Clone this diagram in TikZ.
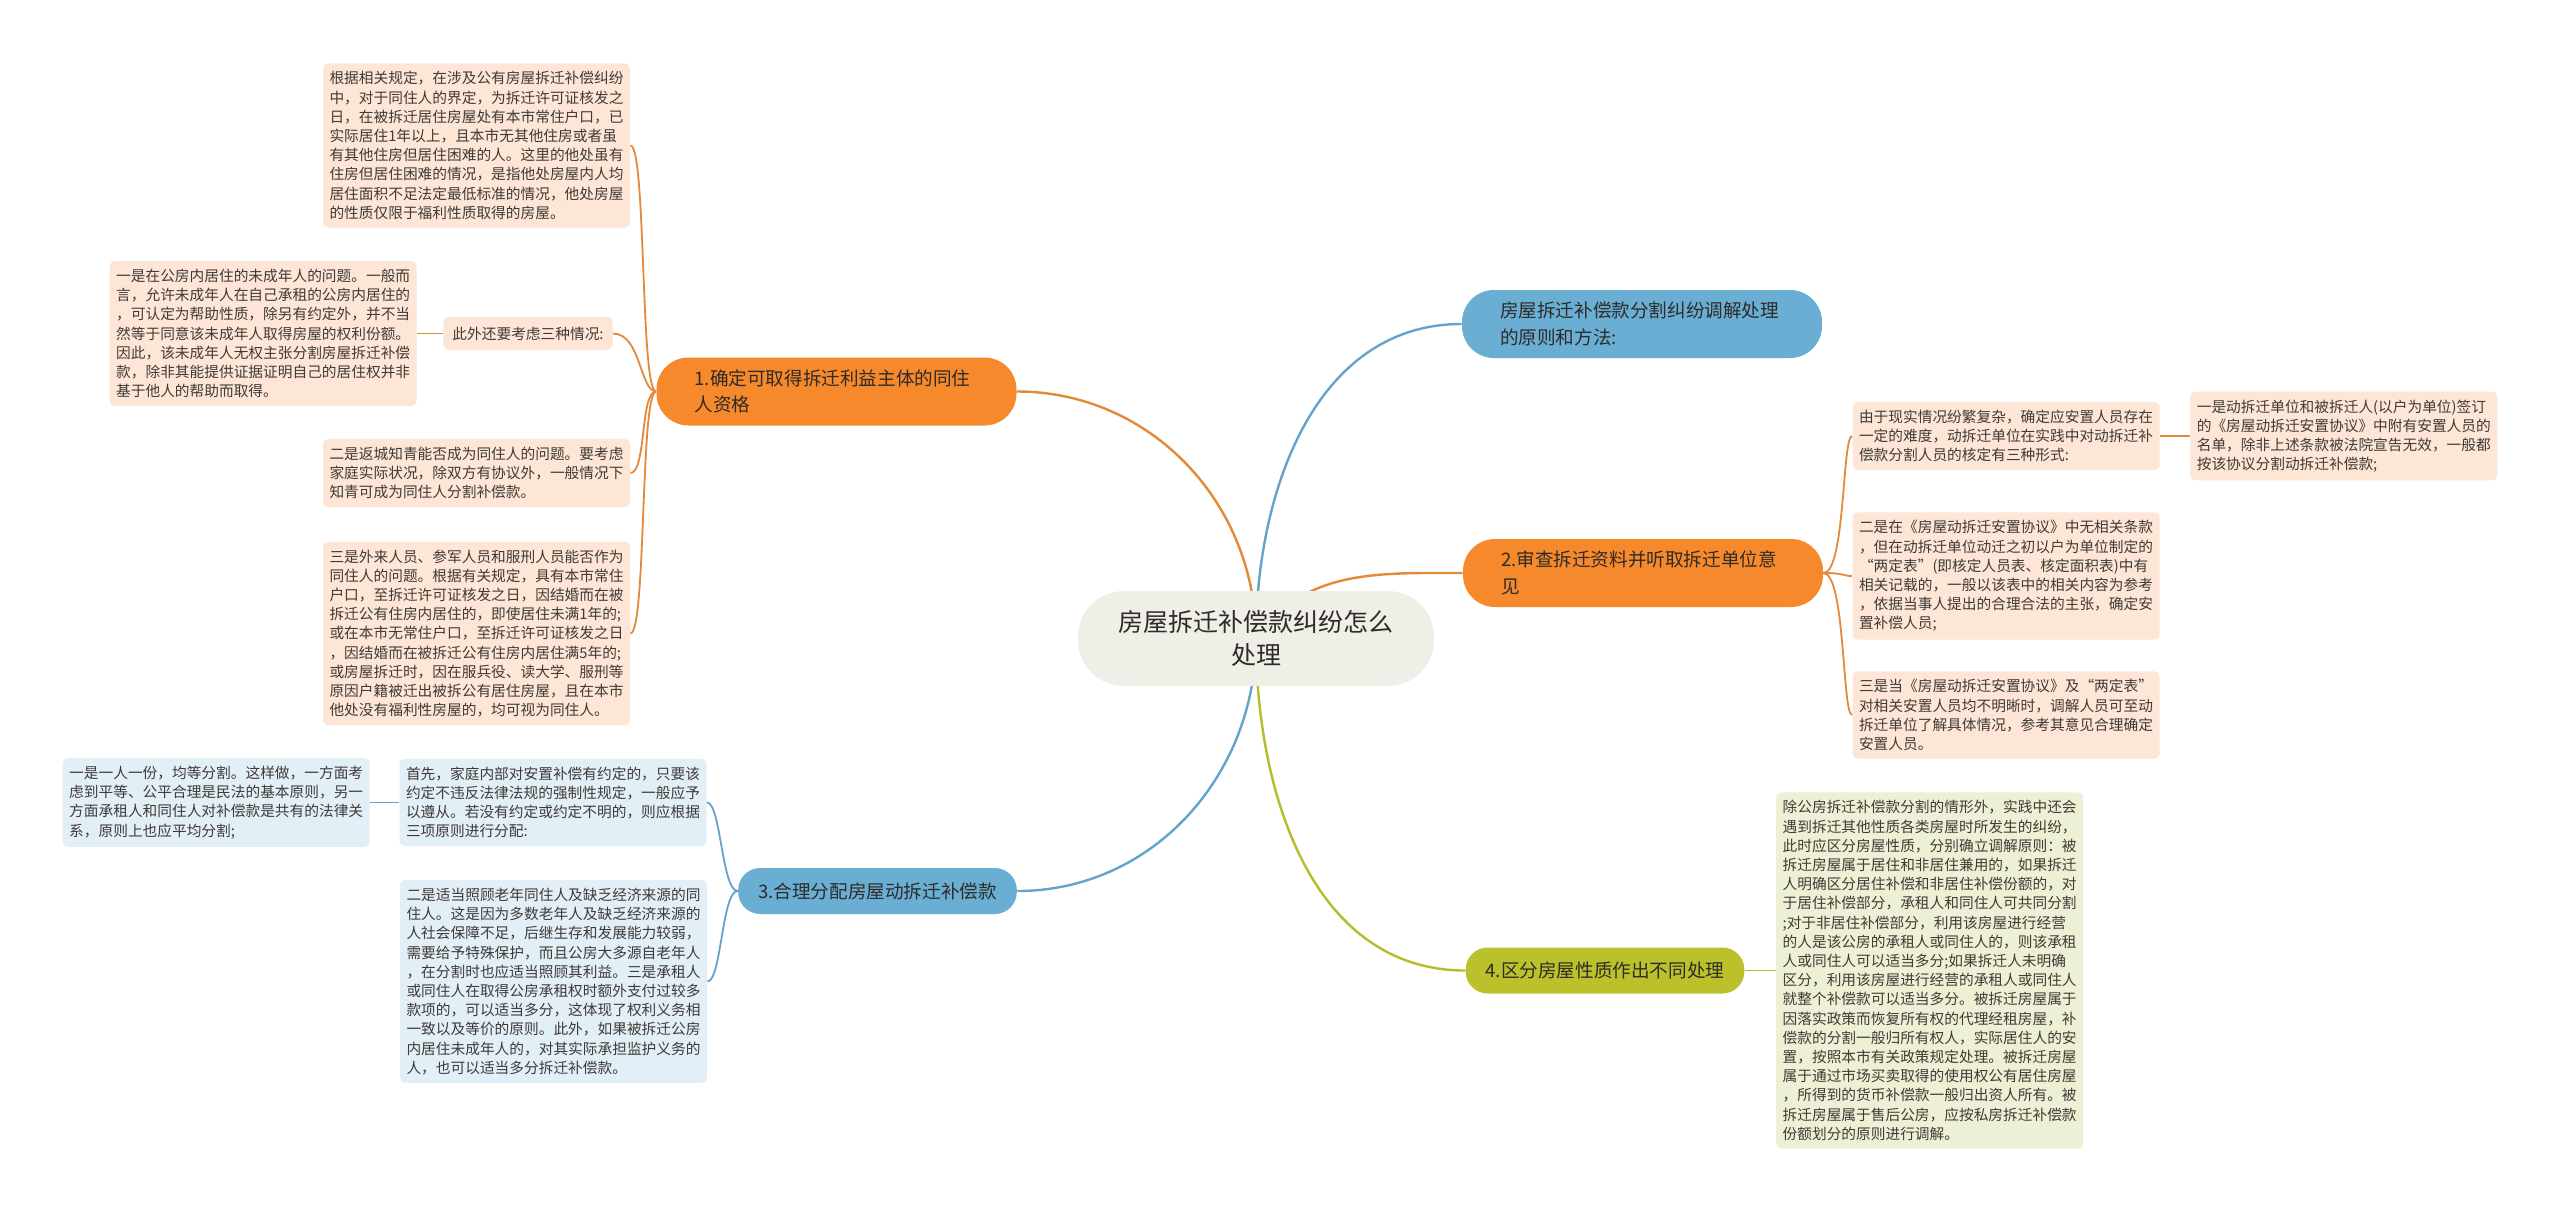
\documentclass[tikz,border=0pt]{standalone}
\usepackage{fontspec}
\setmainfont{Noto Sans CJK SC}
\usetikzlibrary{positioning,backgrounds}
\definecolor{orgfill}{HTML}{F5892C}
\definecolor{orgline}{HTML}{E3893A}
\definecolor{orgleaf}{HTML}{FDE6D6}
\definecolor{blufill}{HTML}{6AAED4}
\definecolor{bluline}{HTML}{64A3CB}
\definecolor{bluleaf}{HTML}{E3EFF7}
\definecolor{olvfill}{HTML}{BAC12A}
\definecolor{olvline}{HTML}{B5BD2A}
\definecolor{olvleaf}{HTML}{EEF0D6}
\definecolor{ctrfill}{HTML}{EFEEE7}
\definecolor{leaftxt}{HTML}{3F3A36}
\definecolor{brtxt}{HTML}{2E2B28}

\begin{document}
\begin{tikzpicture}[
  x=0.5pt, y=-0.5pt,
  leaf/.style={fill=#1, rounded corners=2.5pt, align=left, text width=147pt,
               inner xsep=3.25pt, inner ysep=4pt, text=leaftxt,
               font=\fontsize{7.35}{9.6}\selectfont},
  tagbox/.style={fill=#1, rounded corners=2.5pt, inner xsep=4.5pt, inner ysep=4pt,
                 minimum height=16.5pt, text=leaftxt, font=\fontsize{7.35}{9.6}\selectfont},
  twoline/.style={fill=#1, rounded corners=16pt, align=left, text width=142pt,
                  inner xsep=19pt, minimum height=34pt, text=brtxt,
                  font=\fontsize{9.3}{13.3}\selectfont},
  oneline/.style={fill=#1, rounded corners=11pt, inner xsep=10pt,
                  minimum height=23pt, text=brtxt, font=\fontsize{9.3}{13.3}\selectfont},
  ctrbox/.style={fill=ctrfill, rounded corners=23pt, align=center,
                 minimum width=178pt, minimum height=47.5pt, text=brtxt,
                 font=\fontsize{12.5}{16.5}\selectfont},
  link/.style={line width=1.2pt},
  twig/.style={line width=0.9pt}
]
\useasboundingbox (0,0) rectangle (2560,1211);

\node[ctrbox] (ctr) at (1256,638.5) {房屋拆迁补偿款纠纷怎么\\处理};

\node[twoline=orgfill] (b1) at (836.5,391.5) {1.确定可取得拆迁利益主体的同住\\人资格};
\node[twoline=blufill] (tr) at (1642,324) {房屋拆迁补偿款分割纠纷调解处理\\的原则和方法:};
\node[twoline=orgfill] (b2) at (1643,573) {2.审查拆迁资料并听取拆迁单位意\\见};
\node[oneline=blufill] (b3) at (877.5,891) {3.合理分配房屋动拆迁补偿款};
\node[oneline=olvfill] (b4) at (1605,970.5) {4.区分房屋性质作出不同处理};

\node[leaf=orgleaf] (rule) at (476.5,145.5) {根据相关规定，在涉及公有房屋拆迁补偿纠纷\\中，对于同住人的界定，为拆迁许可证核发之\\日，在被拆迁居住房屋处有本市常住户口，已\\实际居住1年以上，且本市无其他住房或者虽\\有其他住房但居住困难的人。这里的他处虽有\\住房但居住困难的情况，是指他处房屋内人均\\居住面积不足法定最低标准的情况，他处房屋\\的性质仅限于福利性质取得的房屋。};
\node[tagbox=orgleaf] (three) at (528,333.5) {此外还要考虑三种情况:};
\node[leaf=orgleaf] (minor) [left=13pt of three] {一是在公房内居住的未成年人的问题。一般而\\言，允许未成年人在自己承租的公房内居住的\\，可认定为帮助性质，除另有约定外，并不当\\然等于同意该未成年人取得房屋的权利份额。\\因此，该未成年人无权主张分割房屋拆迁补偿\\款，除非其能提供证据证明自己的居住权并非\\基于他人的帮助而取得。};
\node[leaf=orgleaf] (youth) at (476.5,473) {二是返城知青能否成为同住人的问题。要考虑\\家庭实际状况，除双方有协议外，一般情况下\\知青可成为同住人分割补偿款。};
\node[leaf=orgleaf] (outer) at (476.5,633.5) {三是外来人员、参军人员和服刑人员能否作为\\同住人的问题。根据有关规定，具有本市常住\\户口，至拆迁许可证核发之日，因结婚而在被\\拆迁公有住房内居住的，即使居住未满1年的;\\或在本市无常住户口，至拆迁许可证核发之日\\，因结婚而在被拆迁公有住房内居住满5年的;\\或房屋拆迁时，因在服兵役、读大学、服刑等\\原因户籍被迁出被拆公有居住房屋，且在本市\\他处没有福利性房屋的，均可视为同住人。};

\node[leaf=bluleaf] (first) at (553,802.5) {首先，家庭内部对安置补偿有约定的，只要该\\约定不违反法律法规的强制性规定，一般应予\\以遵从。若没有约定或约定不明的，则应根据\\三项原则进行分配:};
\node[leaf=bluleaf] (equal) [left=14.5pt of first] {一是一人一份，均等分割。这样做，一方面考\\虑到平等、公平合理是民法的基本原则，另一\\方面承租人和同住人对补偿款是共有的法律关\\系，原则上也应平均分割;};
\node[leaf=bluleaf] (elder) at (553.5,981.5) {二是适当照顾老年同住人及缺乏经济来源的同\\住人。这是因为多数老年人及缺乏经济来源的\\人社会保障不足，后继生存和发展能力较弱，\\需要给予特殊保护，而且公房大多源自老年人\\，在分割时也应适当照顾其利益。三是承租人\\或同住人在取得公房承租权时额外支付过较多\\款项的，可以适当多分，这体现了权利义务相\\一致以及等价的原则。此外，如果被拆迁公房\\内居住未成年人的，对其实际承担监护义务的\\人，也可以适当多分拆迁补偿款。};

\node[leaf=orgleaf] (forms) at (2006,436) {由于现实情况纷繁复杂，确定应安置人员存在\\一定的难度，动拆迁单位在实践中对动拆迁补\\偿款分割人员的核定有三种形式:};
\node[leaf=orgleaf] (deal) [right=15pt of forms] {一是动拆迁单位和被拆迁人(以户为单位)签订\\的《房屋动拆迁安置协议》中附有安置人员的\\名单，除非上述条款被法院宣告无效，一般都\\按该协议分割动拆迁补偿款;};
\node[leaf=orgleaf] (table) at (2006,576) {二是在《房屋动拆迁安置协议》中无相关条款\\，但在动拆迁单位动迁之初以户为单位制定的\\“两定表”(即核定人员表、核定面积表)中有\\相关记载的，一般以该表中的相关内容为参考\\，依据当事人提出的合理合法的主张，确定安\\置补偿人员;};
\node[leaf=orgleaf] (unclear) at (2006,715) {三是当《房屋动拆迁安置协议》及“两定表”\\对相关安置人员均不明晰时，调解人员可至动\\拆迁单位了解具体情况，参考其意见合理确定\\安置人员。};

\node[leaf=olvleaf] (kinds) [right=15.5pt of b4] {除公房拆迁补偿款分割的情形外，实践中还会\\遇到拆迁其他性质各类房屋时所发生的纠纷，\\此时应区分房屋性质，分别确立调解原则：被\\拆迁房屋属于居住和非居住兼用的，如果拆迁\\人明确区分居住补偿和非居住补偿份额的，对\\于居住补偿部分，承租人和同住人可共同分割\\;对于非居住补偿部分，利用该房屋进行经营\\的人是该公房的承租人或同住人的，则该承租\\人或同住人可以适当多分;如果拆迁人未明确\\区分，利用该房屋进行经营的承租人或同住人\\就整个补偿款可以适当多分。被拆迁房屋属于\\因落实政策而恢复所有权的代理经租房屋，补\\偿款的分割一般归所有权人，实际居住人的安\\置，按照本市有关政策规定处理。被拆迁房屋\\属于通过市场买卖取得的使用权公有居住房屋\\，所得到的货币补偿款一般归出资人所有。被\\拆迁房屋属于售后公房，应按私房拆迁补偿款\\份额划分的原则进行调解。};

\begin{scope}[on background layer]
\fill[white] (0,0) rectangle (2560,1211);
\draw[link, orgline] (ctr.center) to[out=90, in=0] (b1.east);
\draw[link, bluline] (ctr.center) to[out=90, in=180] (tr.west);
\draw[link, orgline] (ctr.center) to[out=55, in=180] (b2.west);
\draw[link, bluline] (ctr.center) to[out=-90, in=0] (b3.east);
\draw[link, olvline] (ctr.center) to[out=-90, in=180] (b4.west);

\draw[twig, orgline] (b1.west) .. controls +(-16,0) and +(16,0) .. (rule.east);
\draw[twig, orgline] (b1.west) .. controls +(-16,0) and +(28,0) .. (three.east);
\draw[twig, orgline] (b1.west) .. controls +(-16,0) and +(16,0) .. (youth.east);
\draw[twig, orgline] (b1.west) .. controls +(-16,0) and +(16,0) .. (outer.east);
\draw[twig, orgline] (minor) -- (three);

\draw[twig, bluline] (b3.west) .. controls +(-16,0) and +(14,0) .. (first.east);
\draw[twig, bluline] (b3.west) .. controls +(-16,0) and +(14,0) .. (elder.east);
\draw[twig, bluline] (equal) -- (first);

\draw[twig, orgline] (b2.east) .. controls +(22,0) and +(-10,0) .. (forms.west);
\draw[twig, orgline] (b2.east) .. controls +(22,0) and +(-10,0) .. (table.west);
\draw[twig, orgline] (b2.east) .. controls +(22,0) and +(-10,0) .. (unclear.west);
\draw[twig, orgline] (forms) -- (deal);

\draw[twig, olvline] (b4) -- (kinds);
\end{scope}
\end{tikzpicture}
\end{document}
